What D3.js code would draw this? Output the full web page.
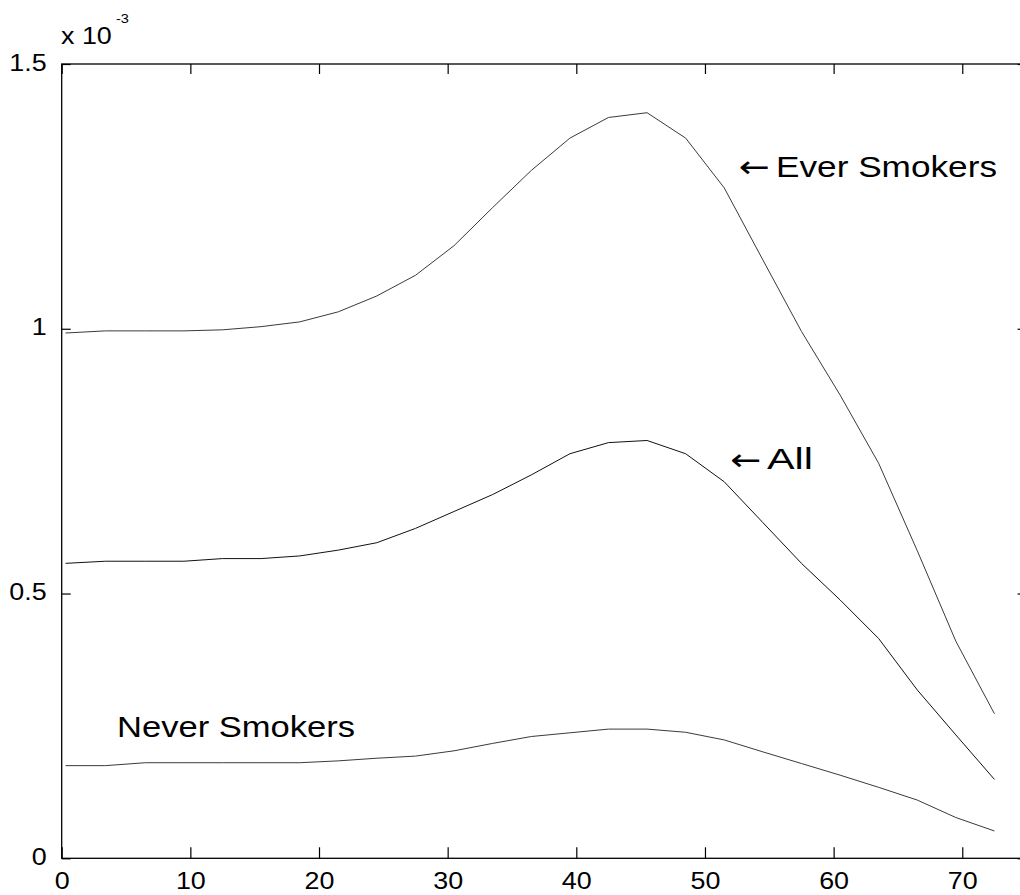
<!DOCTYPE html>
<html>
<head>
<meta charset="utf-8">
<script src="https://cdn.jsdelivr.net/npm/d3@7"></script>
<style>
  html, body { margin: 0; padding: 0; background: #fff; }
  svg { display: block; }
  text { font-family: "Liberation Sans", Arial, Helvetica, sans-serif; fill: #000; }
</style>
</head>
<body>
<svg id="chart" width="1020" height="895"></svg>
<script>
// x positions (age-like variable)
const xValues = [0.3, 3.4, 6.5, 9.5, 12.5, 15.5, 18.5, 21.5, 24.5, 27.5, 30.5, 33.5, 36.5,
                 39.5, 42.5, 45.5, 48.5, 51.5, 54.5, 57.5, 60.5, 63.5, 66.5, 69.5, 72.5];
// series values in units of 10^-3
const everSmokers = [0.992, 0.996, 0.996, 0.996, 0.998, 1.004, 1.013, 1.032, 1.062, 1.101, 1.157, 1.229, 1.299,
                     1.360, 1.399, 1.408, 1.360, 1.266, 1.130, 0.995, 0.875, 0.746, 0.581, 0.410, 0.273];
const allPeople   = [0.557, 0.561, 0.561, 0.561, 0.566, 0.566, 0.571, 0.582, 0.596, 0.623, 0.655, 0.687, 0.724,
                     0.764, 0.785, 0.789, 0.764, 0.711, 0.634, 0.557, 0.488, 0.415, 0.318, 0.233, 0.149];
const neverSmokers = [0.175, 0.175, 0.1805, 0.1805, 0.1805, 0.1805, 0.1805, 0.184, 0.189, 0.193, 0.203, 0.217, 0.230,
                      0.237, 0.244, 0.244, 0.238, 0.2235, 0.201, 0.179, 0.157, 0.134, 0.110, 0.077, 0.0516];
const xTicks = [0, 10, 20, 30, 40, 50, 60, 70];
const yTicks = [0, 0.5, 1, 1.5];
const yTickLabels = ["0", "0.5", "1", "1.5"];
const seriesLabels = ["Ever Smokers", "All", "Never Smokers"];
const multiplierLabel = ["x 10", "-3"];

(function () {
const svg = d3.select("#chart");
const mLeft = 61.7, mRight = 1026.6, mTop = 64, mBottom = 858.3;
const sx = 1.12; // horizontal stretch of glyphs seen in the reference

const x = d3.scaleLinear().domain([0, 75]).range([mLeft, mRight]);
const y = d3.scaleLinear().domain([0, 1.5]).range([mBottom, mTop]);

// box
svg.append("rect")
  .attr("x", mLeft).attr("y", mTop)
  .attr("width", mRight - mLeft).attr("height", mBottom - mTop)
  .attr("fill", "none").attr("stroke", "#000").attr("stroke-width", 1.3);

// axes with inward ticks
const xAxisB = d3.axisBottom(x).tickValues(xTicks).tickSize(-11).tickFormat(d3.format("d"));
const gxb = svg.append("g").attr("transform", `translate(0,${mBottom})`).call(xAxisB);
const xAxisT = d3.axisTop(x).tickValues(xTicks).tickSize(-10).tickFormat("");
const gxt = svg.append("g").attr("transform", `translate(0,${mTop})`).call(xAxisT);
const yAxisL = d3.axisLeft(y).tickValues(yTicks).tickSize(-9)
  .tickFormat((d, i) => yTickLabels[i]);
const gyl = svg.append("g").attr("transform", `translate(${mLeft},0)`).call(yAxisL);
const yAxisR = d3.axisRight(y).tickValues(yTicks).tickSize(-9).tickFormat("");
const gyr = svg.append("g").attr("transform", `translate(${mRight},0)`).call(yAxisR);

[gxb, gxt, gyl, gyr].forEach(g => {
  g.select(".domain").remove();
  g.attr("font-size", null).attr("font-family", null);
  g.selectAll(".tick line").attr("stroke", "#000").attr("stroke-width", 1.2);
  g.selectAll(".tick text")
    .style("font-family", '"Liberation Sans", Arial, sans-serif')
    .style("font-size", "24px").attr("fill", "#000");
});
gxb.selectAll(".tick text").attr("x", 0).attr("y", 31).attr("dy", null)
  .attr("transform", `scale(${sx},1)`);
gyl.selectAll(".tick text").attr("x", -15 / sx).attr("y", 6).attr("dy", null)
  .attr("transform", `scale(${sx},1)`);

// multiplier
svg.append("text").attr("transform", `translate(61,43.5) scale(${sx},1)`)
  .style("font-size", "24px").text(multiplierLabel[0]);
svg.append("text").attr("transform", `translate(116,22.5) scale(${sx},1)`)
  .style("font-size", "13px").text(multiplierLabel[1]);

// lines
const data = xValues.map((xv, i) => ({x: xv, ever: everSmokers[i], all: allPeople[i], never: neverSmokers[i]}));
const mk = key => d3.line().x(d => x(d.x)).y(d => y(d[key]));
svg.append("path").datum(data).attr("d", mk("ever"))
  .attr("fill", "none").attr("stroke", "#3a3a3a").attr("stroke-width", 1);
svg.append("path").datum(data).attr("d", mk("all"))
  .attr("fill", "none").attr("stroke", "#111").attr("stroke-width", 1);
svg.append("path").datum(data).attr("d", mk("never"))
  .attr("fill", "none").attr("stroke", "#3a3a3a").attr("stroke-width", 1);

// annotations
function arrow(xp, yp) {
  svg.append("text").attr("x", xp).attr("y", yp)
    .style("font-size", "30px").style("font-family", '"DejaVu Sans", sans-serif')
    .attr("textLength", 31).attr("lengthAdjust", "spacingAndGlyphs").text("\u2190");
}
arrow(739, 177);
svg.append("text").attr("x", 776).attr("y", 176.5)
  .style("font-size", "29px").attr("textLength", 221).attr("lengthAdjust", "spacingAndGlyphs")
  .text(seriesLabels[0]);
arrow(730.5, 470);
svg.append("text").attr("x", 767).attr("y", 469.3)
  .style("font-size", "29px").attr("textLength", 46).attr("lengthAdjust", "spacingAndGlyphs")
  .text(seriesLabels[1]);
svg.append("text").attr("x", 117).attr("y", 737.3)
  .style("font-size", "29px").attr("textLength", 238).attr("lengthAdjust", "spacingAndGlyphs")
  .text(seriesLabels[2]);
})();
</script>
</body>
</html>
